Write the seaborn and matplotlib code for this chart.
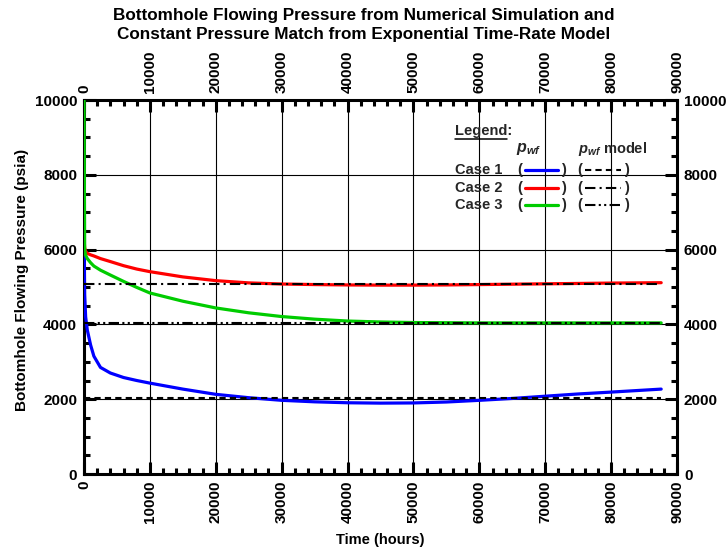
import numpy as np
import pandas as pd
import matplotlib
matplotlib.use("Agg")
import matplotlib.pyplot as plt
from matplotlib.lines import Line2D
from matplotlib.ticker import MultipleLocator
import seaborn as sns

# ---- data -------------------------------------------------------------
time_hours = [0, 100, 250, 500, 1000, 1500, 2500, 4000, 6000, 8000, 10000,
              15000, 20000, 25000, 30000, 35000, 40000, 45000, 50000, 55000,
              60000, 65000, 70000, 75000, 80000, 87600]

pwf_case1 = [6500, 4800, 4200, 3850, 3450, 3150, 2850, 2700, 2580, 2500, 2430,
             2270, 2130, 2040, 1970, 1930, 1905, 1895, 1900, 1925,
             1970, 2020, 2080, 2140, 2190, 2270]
pwf_case2 = [6300, 6050, 5950, 5900, 5860, 5830, 5760, 5680, 5570, 5480, 5410,
             5270, 5170, 5110, 5080, 5065, 5055, 5050, 5050, 5055,
             5065, 5075, 5085, 5095, 5105, 5115]
pwf_case3 = [10000, 6000, 5850, 5760, 5650, 5560, 5450, 5320, 5150, 4990, 4840,
             4620, 4440, 4310, 4210, 4140, 4090, 4065, 4050, 4045,
             4040, 4040, 4040, 4040, 4040, 4040]

cases = ["Case 1", "Case 2", "Case 3"]
case_colors = ["#0000ff", "#ff0000", "#00cc00"]
model_pwf = [2040, 5090, 4050]          # constant-pressure model, psia
model_span = [0, 87600]                 # hours

x_ticks = list(range(0, 90001, 10000))
y_ticks = list(range(0, 10001, 2000))

# ---- tidy tables -------------------------------------------------------
sim = pd.DataFrame({
    "Time": time_hours * 3,
    "Pressure": pwf_case1 + pwf_case2 + pwf_case3,
    "Case": sum([[c] * len(time_hours) for c in cases], []),
})
model = pd.DataFrame({
    "Time": model_span * 3,
    "Pressure": sum([[p, p] for p in model_pwf], []),
    "Case": sum([[c, c] for c in cases], []),
})

# ---- style -------------------------------------------------------------
sns.set_theme(style="ticks")
plt.rcParams["font.family"] = ["Liberation Sans", "DejaVu Sans"]
plt.rcParams["font.weight"] = "bold"
plt.rcParams["mathtext.fontset"] = "custom"
plt.rcParams["mathtext.it"] = "Liberation Sans:bold:italic"
plt.rcParams["mathtext.rm"] = "Liberation Sans:bold"

W, H = 727, 554
fig = plt.figure(figsize=(W / 100, H / 100), dpi=100)
ax = fig.add_axes([84 / W, 1 - 474 / H, (677 - 84) / W, (474 - 100) / H])

sns.lineplot(data=sim, x="Time", y="Pressure", hue="Case",
             palette=dict(zip(cases, case_colors)), estimator=None,
             sort=False, lw=2.3, legend=False, ax=ax)
n_sim = len(ax.lines)

model_dashes = {"Case 1": (3, 2), "Case 2": (5, 2, 1, 2), "Case 3": (5, 1.6, 1, 1.6, 1, 1.6)}
sns.lineplot(data=model, x="Time", y="Pressure", style="Case",
             dashes=model_dashes, color="black", estimator=None,
             sort=False, lw=1.5, legend=False, ax=ax)

# curves sit above the frame so the early-time drop at t=0 stays visible
for i, ln in enumerate(ax.lines):
    ln.set_zorder(3 if i < n_sim else 3.5)

ax.set_xlim(0, 90000)
ax.set_ylim(0, 10000)
ax.set_xticks(x_ticks)
ax.set_yticks(y_ticks)
ax.xaxis.set_minor_locator(MultipleLocator(2000))
ax.yaxis.set_minor_locator(MultipleLocator(500))
ax.grid(True, which="major", color="black", lw=0.8)

ax.tick_params(which="both", direction="in", top=True, right=True,
               labeltop=True, labelright=True, width=2.2, color="black",
               labelsize=11, labelcolor="black")
ax.tick_params(which="major", length=8.5, pad=5)
ax.tick_params(which="minor", length=4.5)
ax.tick_params(axis="x", which="major", labelrotation=90)
for lab in ax.get_xticklabels() + ax.get_yticklabels():
    lab.set_fontweight("bold")

for sp in ax.spines.values():
    sp.set_linewidth(2.2)
    sp.set_color("black")

ax.set_xlabel("Time (hours)", fontsize=10.5, fontweight="bold", color="black")
ax.set_ylabel("Bottomhole Flowing Pressure (psia)", fontsize=11,
              fontweight="bold", color="black")
ax.xaxis.set_label_coords(0.5, -0.158)
ax.yaxis.set_label_coords(-0.093, 0.52)

fig.text(0.5, 1 - 25 / H,
         "Bottomhole Flowing Pressure from Numerical Simulation and\n"
         "Constant Pressure Match from Exponential Time-Rate Model",
         ha="center", va="center", fontsize=12.3, fontweight="bold",
         linespacing=1.36, color="black")

# ---- hand-built legend block ------------------------------------------
def fx(x):
    return x / W


def fy(y):
    return 1 - y / H


fs = 10.5
fig.text(fx(455), fy(131), "Legend:", fontsize=fs, fontweight="bold",
         ha="left", va="center")
fig.add_artist(Line2D([fx(455), fx(507)], [fy(138.5), fy(138.5)],
                      transform=fig.transFigure, color="black", lw=1.1))
fig.text(fx(529), fy(149), r"$p_{wf}$", fontsize=fs + 1, ha="center", va="center")
fig.text(fx(578), fy(149), r"$p_{wf}$ model", fontsize=fs, fontweight="bold",
         ha="left", va="center")

row_y = [170, 188, 205.5]
for case, color, y in zip(cases, case_colors, row_y):
    fig.text(fx(455), fy(y), case, fontsize=fs, fontweight="bold",
             ha="left", va="center")
    fig.text(fx(520), fy(y), "(", fontsize=fs, fontweight="bold", ha="center", va="center")
    fig.text(fx(563), fy(y), ")", fontsize=fs, fontweight="bold", ha="center", va="center")
    fig.add_artist(Line2D([fx(525), fx(558)], [fy(y), fy(y)],
                          transform=fig.transFigure, color=color, lw=2.3))
    fig.text(fx(580), fy(y), "(", fontsize=fs, fontweight="bold", ha="center", va="center")
    fig.text(fx(626), fy(y), ")", fontsize=fs, fontweight="bold", ha="center", va="center")
    seg = Line2D([fx(585), fx(621)], [fy(y), fy(y)], transform=fig.transFigure,
                 color="black", lw=1.5)
    seg.set_dashes(model_dashes[case])
    fig.add_artist(seg)

fig.savefig("out.png", dpi=100)
